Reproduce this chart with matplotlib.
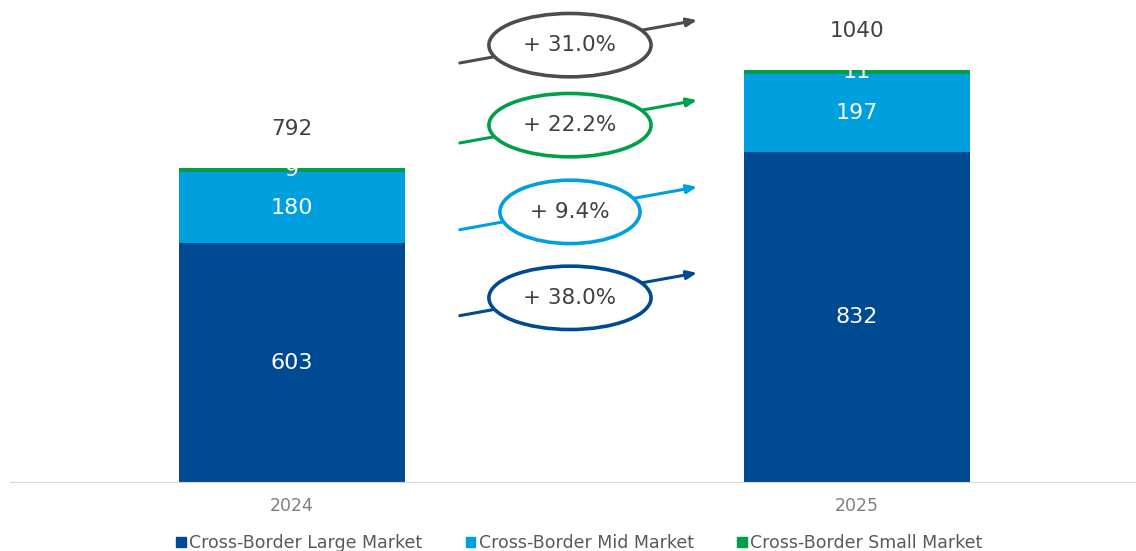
import matplotlib
matplotlib.use("Agg")
import matplotlib.pyplot as plt
from matplotlib.patches import Ellipse, Patch

# data
years = ["2024", "2025"]
series = ["Cross-Border Large Market", "Cross-Border Mid Market", "Cross-Border Small Market"]
large = [603, 832]
mid = [180, 197]
small = [9, 11]
totals = [792, 1040]
growth_labels = ["+ 31.0%", "+ 22.2%", "+ 9.4%", "+ 38.0%"]

DARK = "#004a94"
LIGHT = "#00a0df"
GREEN = "#00a04a"
GREY = "#4d4d4d"
colors = [DARK, LIGHT, GREEN]

plt.rcParams["font.family"] = ["DejaVu Sans"]

fig = plt.figure(figsize=(11.36, 5.51), dpi=100)
ax = fig.add_axes([292 / 1136 - 0.5 * 565 / 1136, 69 / 551, 2 * 565 / 1136, 482 / 551])

x = [0, 1]
width = 0.4
bottom = [0, 0]
for vals, col in zip([large, mid, small], colors):
    ax.bar(x, vals, width, bottom=bottom, color=col, zorder=2)
    for xi, b, v in zip(x, bottom, vals):
        ax.text(xi, b + v / 2, str(v), ha="center", va="center",
                color="white", fontsize=16, zorder=3)
    bottom = [b + v for b, v in zip(bottom, vals)]

for xi, t in zip(x, totals):
    ax.annotate(str(t), (xi, t), xytext=(0, 28), textcoords="offset points",
                ha="center", va="center", fontsize=15.5, color="#404040")

# growth arrows with ellipses (positions in data units)
ring_cols = [GREY, GREEN, LIGHT, DARK]
ring_y = [1103, 901, 682, 465]
ring_w = [0.287, 0.287, 0.248, 0.287]
for lab, col, yc, w in zip(growth_labels, ring_cols, ring_y, ring_w):
    ax.annotate("", xy=(0.717, yc + 63), xytext=(0.297, yc - 45),
                arrowprops=dict(arrowstyle="-|>,head_length=0.6,head_width=0.25",
                                color=col, lw=2.2, shrinkA=0, shrinkB=0),
                zorder=4)
    ax.add_patch(Ellipse((0.492, yc), w, 160, facecolor="white",
                         edgecolor=col, lw=2.6, zorder=5))
    ax.text(0.492, yc, lab, ha="center", va="center", fontsize=15.5,
            color="#404040", zorder=6)

ax.set_xlim(-0.5, 1.5)
ax.set_ylim(0, 1217)
ax.set_xticks(x)
ax.set_xticklabels(years, fontsize=12.5, color="#7f7f7f")
ax.tick_params(axis="x", length=0, pad=11)
ax.set_yticks([])
for s in ["top", "left", "right"]:
    ax.spines[s].set_visible(False)
ax.spines["bottom"].set_color("#d9d9d9")

handles = [Patch(color=c) for c in colors]
fig.legend(handles, series, loc="lower center", bbox_to_anchor=(0.51, -0.03),
           ncol=3, frameon=False, fontsize=12.5, labelcolor="#595959",
           handlelength=0.55, handleheight=0.55, handletextpad=0.2,
           columnspacing=2.5)

fig.savefig("out.png", dpi=100)
